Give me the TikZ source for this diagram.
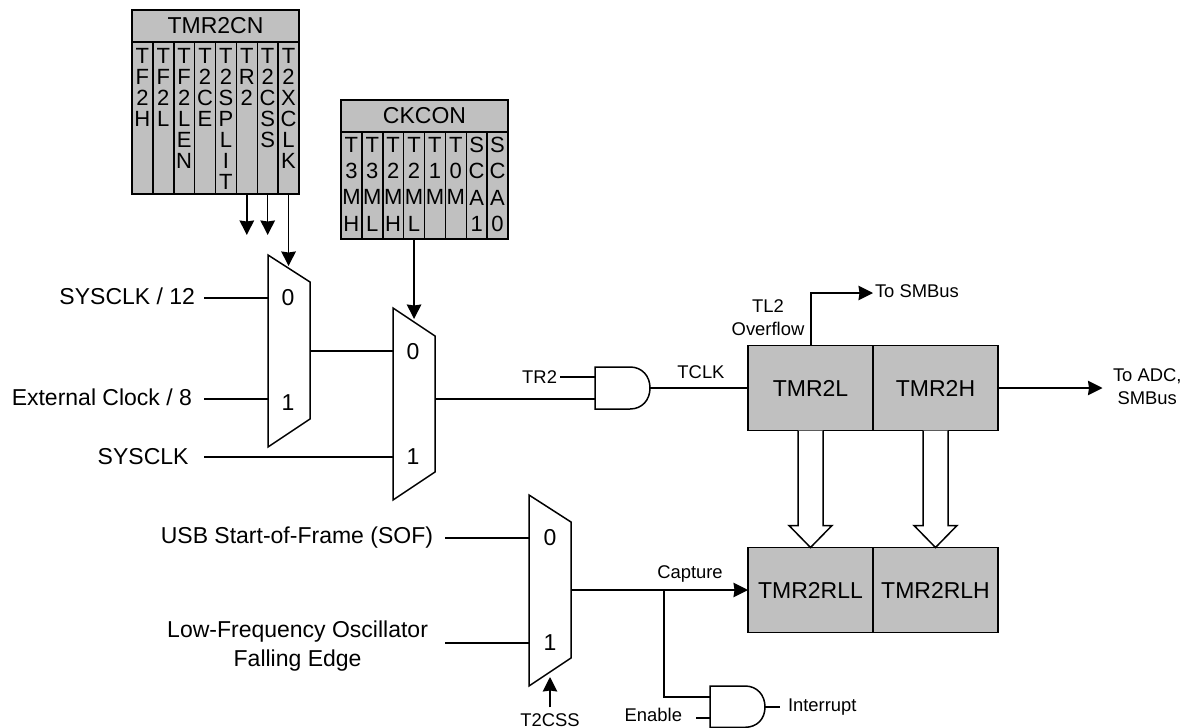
\documentclass[tikz,border=0pt]{standalone}
\usepackage{fontspec}
\setmainfont{Liberation Sans}
\usetikzlibrary{arrows.meta}
\definecolor{reggray}{RGB}{192,192,192}
\begin{document}
\begin{tikzpicture}[
    x=1pt, y=-1pt,
    wire/.style={line width=1.5pt},
    arrow/.style={wire, -{Stealth[inset=1pt, length=14.5pt, width=14.5pt]}},
    mux/.style={wire, fill=white, line join=miter},
    reg/.style={rectangle, draw, line width=1.5pt, fill=reggray, inner sep=0pt, outer sep=0pt, minimum width=125pt, minimum height=85pt, font=\fontsize{23}{26}\selectfont},
    regtop/.style={reg, minimum width=167pt, minimum height=32pt},
    bitcell/.style={rectangle, draw, line width=1.5pt, fill=reggray, inner sep=0pt, outer sep=0pt, minimum width=20.875pt, anchor=north},
    cnlabel/.style={anchor=north, align=center, inner xsep=0pt, inner ysep=6pt, font=\fontsize{22}{21.1}\selectfont},
    cklabel/.style={anchor=north, align=center, inner xsep=0pt, inner ysep=5pt, font=\fontsize{22}{26.3}\selectfont},
    big/.style={font=\fontsize{23}{28.3}\selectfont, inner sep=0pt, outer sep=0pt},
    small/.style={font=\fontsize{18.4}{23.3}\selectfont, inner sep=0pt, outer sep=0pt}
]
    \useasboundingbox (0,0) rectangle (1184,728);

    \node[regtop] (tmr2cn) at (215.5,26) {TMR2CN};
    \foreach \bitname [count=\i] in {T\\F\\2\\H, T\\F\\2\\L, T\\F\\2\\L\\E\\N, T\\2\\C\\E, T\\2\\S\\P\\L\\I\\T, T\\R\\2, T\\2\\C\\S\\S, T\\2\\X\\C\\L\\K}
        \node[bitcell, minimum height=152pt, label={[cnlabel]north:{\bitname}}] (cnbit\i) at ({132+20.875*(\i-0.5)},42) {};

    \node[regtop] (ckcon) at (424.5,116) {CKCON};
    \foreach \bitname [count=\i] in {T\\3\\M\\H, T\\3\\M\\L, T\\2\\M\\H, T\\2\\M\\L, T\\1\\M, T\\0\\M, S\\C\\A\\1, S\\C\\A\\0}
        \node[bitcell, minimum height=107pt, label={[cklabel]north:{\bitname}}] (ckbit\i) at ({341+20.875*(\i-0.5)},132) {};

    \draw[mux] (268,255) -- (310,282) -- (310,419) -- (268,447) -- cycle;
    \draw[mux] (393,308) -- (435,336) -- (435,472) -- (393,500) -- cycle;
    \draw[mux] (529,495) -- (571,522) -- (571,658) -- (529,686) -- cycle;
    \node[big] (muxazero) at (288,298) {0};
    \node[big] (muxaone) at (288,403) {1};
    \node[big] (muxbzero) at (413,352) {0};
    \node[big] (muxbone) at (413,457) {1};
    \node[big] (muxczero) at (550,538) {0};
    \node[big] (muxcone) at (550,643) {1};

    \coordinate (muxasel) at (289,266);
    \coordinate (muxbsel) at (413.5,319);
    \coordinate (muxcsel) at (550,677);
    \coordinate (muxain0) at (268,298);
    \coordinate (muxain1) at (268,399);
    \coordinate (muxaout) at (310,351);
    \coordinate (muxbin0) at (393,351);
    \coordinate (muxbin1) at (393,457);
    \coordinate (muxbout) at (435,399);
    \coordinate (muxcin0) at (529,538);
    \coordinate (muxcin1) at (529,643);
    \coordinate (muxcout) at (571,590);
    \coordinate (splitend) at (247.5,235);
    \coordinate (cssend) at (268.4,235);

    \node[big, anchor=east, inner xsep=9pt] (sysclkdiv) at (204,296.5) {SYSCLK / 12};
    \node[big, anchor=east, inner xsep=12pt] (extclk) at (204,397.7) {External Clock / 8};
    \node[big, anchor=east, inner xsep=15.5pt] (sysclk) at (204,456.7) {SYSCLK};
    \node[big, anchor=east, inner xsep=12pt] (usbsof) at (445,538) {USB Start-of-Frame (SOF)};
    \node[big, align=center, anchor=east, inner xsep=17pt] (lfosc) at (445,646) {Low-Frequency Oscillator\\Falling Edge};

    \draw[mux] (595,367) -- (630,367) .. controls (642,367) and (650,376) .. (650,388) .. controls (650,400) and (642,409) .. (630,409) -- (595,409) -- cycle;
    \draw[mux] (710,686) -- (745,686) .. controls (757,686) and (765,695) .. (765,707) .. controls (765,719) and (757,727.3) .. (745,727.3) -- (710,727.3) -- cycle;
    \coordinate (andclka) at (595,377);
    \coordinate (andclkb) at (595,399);
    \coordinate (andclkout) at (650,388);
    \coordinate (andinta) at (710,697);
    \coordinate (andintb) at (710,718);
    \coordinate (andintout) at (765,707);
    \coordinate (capsplit) at (664,590);
    \coordinate (capbend) at (664,697);
    \coordinate (ovfbend) at (811,293);

    \node[small, anchor=east, inner xsep=3pt] (tr2) at (560,377) {TR2};
    \node[small, anchor=east, inner xsep=14pt] (enable) at (696,715) {Enable};
    \node[small, anchor=west, inner xsep=8pt] (interrupt) at (780,707) {Interrupt};
    \node[small, inner ysep=6pt] (t2css) at (550,720) {T2CSS};
    \node[small] (tclk) at (701,372) {TCLK};
    \node[small] (capture) at (690,574) {Capture};
    \node[small, align=center] (tl2ovf) at (768,318) {TL2\\Overflow};
    \node[small, anchor=west, inner xsep=2pt] (tosmbus) at (873,291) {To SMBus};
    \node[small, align=center, anchor=west, inner xsep=10.5pt] (toadc) at (1102.5,387) {To ADC,\\SMBus};

    \node[reg] (tmr2l) at (810.5,388) {TMR2L};
    \node[reg] (tmr2h) at (935.5,388) {TMR2H};
    \node[reg] (tmr2rll) at (810.5,590) {TMR2RLL};
    \node[reg] (tmr2rlh) at (935.5,590) {TMR2RLH};

    \draw[arrow] (cnbit6.south) -- (cnbit6.south |- splitend);
    \draw[arrow] (cnbit7.south) -- (cnbit7.south |- cssend);
    \draw[arrow] (cnbit8.south) -- (cnbit8.south |- muxasel);
    \draw[arrow] (ckbit4.south) -- (ckbit4.south |- muxbsel);
    \draw[arrow] (t2css.north) -- (muxcsel);
    \draw[wire] (sysclkdiv.east |- muxain0) -- (muxain0);
    \draw[wire] (extclk.east |- muxain1) -- (muxain1);
    \draw[wire] (sysclk.east |- muxbin1) -- (muxbin1);
    \draw[wire] (muxaout) -- (muxbin0);
    \draw[wire] (usbsof.east) -- (muxcin0);
    \draw[wire] (lfosc.east |- muxcin1) -- (muxcin1);
    \draw[wire] (muxbout) -- (andclkb);
    \draw[wire] (tr2.east) -- (andclka);
    \draw[wire] (andclkout) -- (tmr2l.west);
    \draw[arrow] (muxcout) -- (tmr2rll.west);
    \draw[wire] (capsplit) -- (capbend) -- (andinta);
    \draw[wire] (enable.east |- andintb) -- (andintb);
    \draw[wire] (andintout) -- (interrupt.west);
    \draw[arrow] (tmr2l.north -| ovfbend) -- (ovfbend) -- (ovfbend -| tosmbus.west);
    \draw[arrow] (tmr2h.east) -- (tmr2h.east -| toadc.west);
    \draw[wire, fill=white] (tmr2l.south) ++(-12.5,0) -- ++(0,95) -- ++(-9,0) -- (tmr2rll.north) -- ++(21.5,-22) -- ++(-9,0) -- ++(0,-95);
    \draw[wire, fill=white] (tmr2h.south) ++(-12.5,0) -- ++(0,95) -- ++(-9,0) -- (tmr2rlh.north) -- ++(21.5,-22) -- ++(-9,0) -- ++(0,-95);
\end{tikzpicture}
\end{document}
